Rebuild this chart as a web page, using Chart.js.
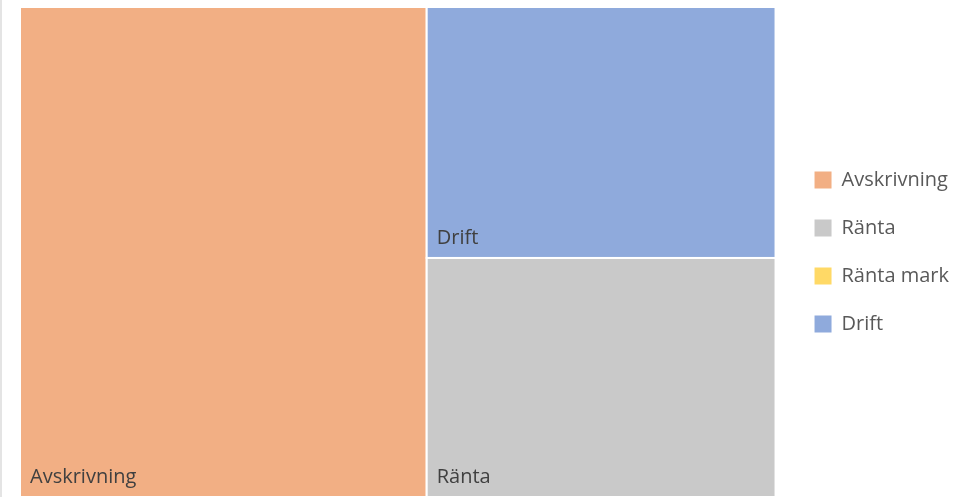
<!DOCTYPE html>
<html>
<head>
<meta charset="utf-8">
<script src="https://cdn.jsdelivr.net/npm/chart.js@4.4.1/dist/chart.umd.min.js"></script>
<style>
  html, body { margin: 0; padding: 0; background: #fff; }
  #wrap { width: 961px; height: 497px; border-left: 2px solid #e4e4e4; }
</style>
</head>
<body>
<div id="wrap"><canvas id="tree"></canvas></div>
<script>
// Treemap of cost components (Chart.js has no treemap, so the tiles are laid out here)
const categories = ['Avskrivning', 'Ränta', 'Ränta mark', 'Drift'];
const values = [2390, 1000, 0, 1050];
const colors = ['#F2AF84', '#C9C9C9', '#FFD966', '#8FAADC'];

// squarified layout in units where the area is (aspect x 1)
function squarify(items, x, y, w, h, out) {
  if (!items.length) return out;
  const total = items.reduce((s, d) => s + d.v, 0);
  const scale = (w * h) / total;
  const side = Math.min(w, h);
  const worst = r => {
    const areas = r.map(d => d.v * scale);
    const s = areas.reduce((a, b) => a + b, 0);
    return Math.max(side * side * Math.max(...areas) / (s * s), (s * s) / (side * side * Math.min(...areas)));
  };
  const row = [], rest = items.slice();
  while (rest.length) {
    if (!row.length || worst(row.concat(rest[0])) <= worst(row)) row.push(rest.shift());
    else break;
  }
  const rowArea = row.reduce((a, d) => a + d.v * scale, 0);
  if (w >= h) {
    const cw = rowArea / h; let cy = y;
    row.forEach(d => { const rh = d.v * scale / cw; out.push({ ...d, x0: x, x1: x + cw, y0: cy, y1: cy + rh }); cy += rh; });
    return squarify(rest, x + cw, y, w - cw, h, out);
  }
  const rh = rowArea / w; let cx = x;
  row.forEach(d => { const tw = d.v * scale / rh; out.push({ ...d, x0: cx, x1: cx + tw, y0: y, y1: y + rh }); cx += tw; });
  return squarify(rest, x, y + rh, w, h - rh, out);
}

const treemapPlugin = {
  id: 'treemap',
  beforeDatasetsDraw(chart) {
    const { ctx, chartArea, scales: { x, y } } = chart;
    const aspect = chartArea.width / chartArea.height;
    const items = categories
      .map((c, i) => ({ label: c, v: values[i], color: colors[i], idx: i }))
      .filter(d => d.v > 0 && chart.isDatasetVisible(d.idx))
      .sort((a, b) => b.v - a.v);
    const tiles = squarify(items, 0, 0, aspect, 1, []);
    ctx.save();
    tiles.forEach(t => {
      const px0 = x.getPixelForValue(t.x0 / aspect), px1 = x.getPixelForValue(t.x1 / aspect);
      const py0 = y.getPixelForValue(t.y0), py1 = y.getPixelForValue(t.y1);
      ctx.fillStyle = t.color;
      ctx.fillRect(px0, py0, px1 - px0, py1 - py0);
      ctx.strokeStyle = '#fff';
      ctx.lineWidth = 2;
      ctx.strokeRect(px0, py0, px1 - px0, py1 - py0);
      ctx.fillStyle = '#404040';
      ctx.font = '20px "Open Sans"';
      ctx.textBaseline = 'alphabetic';
      ctx.fillText(t.label, px0 + 10, py1 - 14);
    });
    ctx.restore();
  }
};

new Chart(document.getElementById('tree'), {
  type: 'scatter',
  data: {
    datasets: categories.map((c, i) => ({
      label: c, data: [], backgroundColor: colors[i], borderColor: colors[i], borderWidth: 0
    }))
  },
  options: {
    responsive: true,
    maintainAspectRatio: false,
    animation: false,
    layout: { padding: { left: 18, top: 7, right: 4, bottom: 0 } },
    scales: {
      x: { type: 'linear', min: 0, max: 1, display: false },
      // invisible axis, only used as a gap between tiles and legend
      y: {
        type: 'linear', min: 0, max: 1, reverse: true, position: 'right',
        grid: { display: false }, border: { display: false }, ticks: { display: false },
        afterFit(scale) { scale.width = 11; }
      }
    },
    plugins: {
      tooltip: { enabled: false },
      legend: {
        position: 'right',
        labels: {
          boxWidth: 17, boxHeight: 17, padding: 28, color: '#595959',
          font: { size: 20, family: 'Open Sans' }
        }
      }
    }
  },
  plugins: [treemapPlugin]
});
</script>
</body>
</html>
